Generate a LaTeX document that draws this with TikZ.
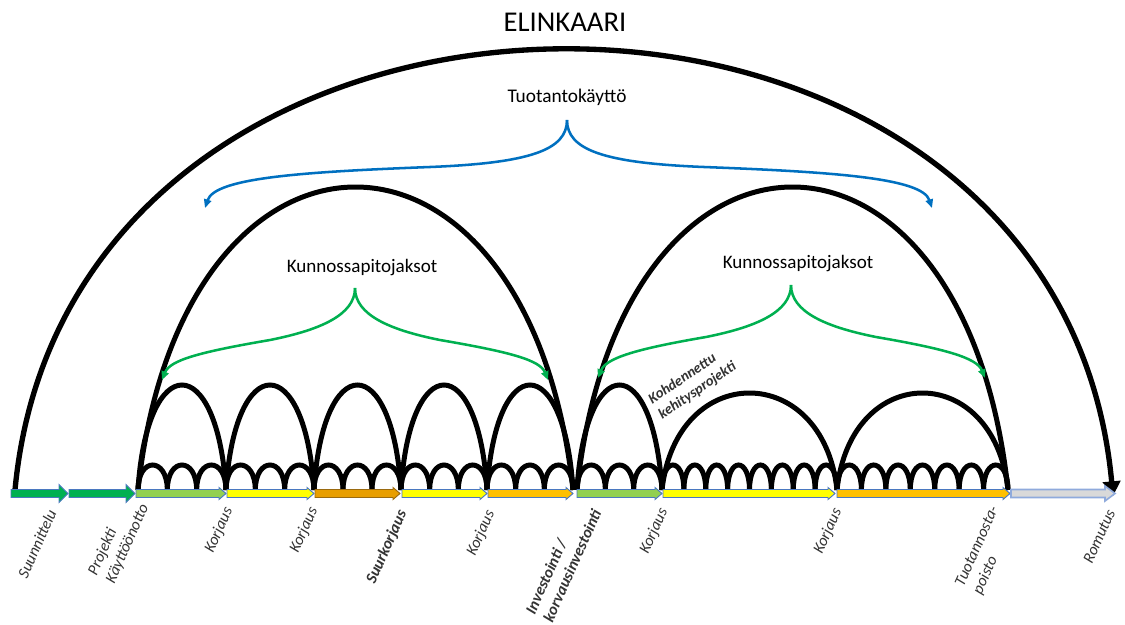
\documentclass[tikz,border=0pt]{standalone}
\usepackage{fontspec}
\setmainfont{Carlito}
\usetikzlibrary{arrows.meta}

\definecolor{bgreen}{HTML}{00B050}
\definecolor{lgreen}{HTML}{92D050}
\definecolor{yel}{HTML}{FFFF00}
\definecolor{dorange}{HTML}{E89E00}
\definecolor{dorangeedge}{HTML}{9A6A10}
\definecolor{orng}{HTML}{FFC000}
\definecolor{lgray}{HTML}{D9D9D9}
\definecolor{bblue}{HTML}{0070C0}
\definecolor{edgeblue}{HTML}{4A78C0}
\definecolor{grayedge}{HTML}{8FAADC}
\definecolor{labelgray}{HTML}{333333}

% one bar segment: x1, x2, fill, outline, head length, head half height
\newcommand\segarrow[6]{%
  \filldraw[fill=#3, draw=#4, line width=0.7pt]
    (#1,489.5) -- ({#2-#5},489.5) -- ({#2-#5},{493.5-#6}) -- (#2,493.5)
    -- ({#2-#5},{493.5+#6}) -- ({#2-#5},497.5) -- (#1,497.5) -- cycle;}

% one arch standing on the bar: x1, x2, height, slant of the legs
\newcommand\archline[4]{%
  \draw[archstyle] (#1,490) .. controls ({#1+#4*(#2-#1)},{490-4*#3/3})
    and ({#2-#4*(#2-#1)},{490-4*#3/3}) .. (#2,490);}

\begin{document}
\begin{tikzpicture}[x=0.75pt,y=-0.75pt,
  archstyle/.style={line width=3.75pt, black},
  bracestyle/.style={line width=1.9pt, -{Triangle[length=6.5pt,width=5.5pt]}},
  lbl/.style={font=\fontsize{12}{14.5}\selectfont\itshape, rotate=66,
    inner sep=0pt, text=labelgray, anchor=east, align=left},
  lblbold/.style={lbl, font=\fontsize{12}{14.5}\selectfont\bfseries\itshape},
  headline/.style={inner sep=0pt, text=black}]
\useasboundingbox (0,0) rectangle (1125,625);

% whole life cycle arch with its arrow head
\draw[line width=4pt, -{Triangle[length=11pt,width=13pt]}]
  (15,490) .. controls (70,-97) and (1058,-97) .. (1113,496);

% two maintenance periods
\archline{138}{573}{303}{0.1}
\archline{577}{1008}{303}{0.1}

% repair intervals
\foreach \a/\b in {138/226, 226/314, 314/401, 401/487, 487/573, 577/662}
  {\archline{\a}{\b}{105}{0.1}}
\archline{662}{837}{97}{0.08}
\archline{837}{1008}{97}{0.08}

% small service intervals
\foreach \a/\b/\n in {138/226/3, 226/314/3, 314/401/3, 401/487/3, 487/573/3,
                      577/662/3, 662/837/8, 837/1008/7}{
  \pgfmathsetmacro\w{(\b-\a)/\n}
  \foreach \k in {1,...,\n}{
    \pgfmathsetmacro\xa{\a+(\k-1)*\w}
    \pgfmathsetmacro\xb{\a+\k*\w}
    \archline{\xa}{\xb}{25}{0}
  }
}

% time line
\segarrow{11}{68}{bgreen}{edgeblue}{9}{9}
\segarrow{69}{135}{bgreen}{edgeblue}{9}{9}
\segarrow{136}{226}{lgreen}{edgeblue}{7}{6}
\segarrow{227}{314}{yel}{edgeblue}{7}{6}
\segarrow{315}{400}{dorange}{dorangeedge}{7}{6}
\segarrow{402}{487}{yel}{edgeblue}{7}{6}
\segarrow{488}{573}{orng}{edgeblue}{7}{6}
\segarrow{577}{662}{lgreen}{edgeblue}{7}{6}
\segarrow{663}{835}{yel}{edgeblue}{7}{6}
\segarrow{837}{1010}{orng}{edgeblue}{7}{6}
\filldraw[fill=lgray, draw=grayedge, line width=1.2pt]
  (1011,489.5) -- (1105,489.5) -- (1105,486) -- (1115,493.5)
  -- (1105,501) -- (1105,497.5) -- (1011,497.5) -- cycle;

% headings
\node[headline, font=\fontsize{21.5}{24}\selectfont] (title) at (565,22) {ELINKAARI};
\node[headline, font=\fontsize{14.5}{17}\selectfont] (prod) at (567,97) {Tuotantokäyttö};
\node[headline, font=\fontsize{14.3}{17}\selectfont] (kp1) at (362,268) {Kunnossapitojaksot};
\node[headline, font=\fontsize{14.3}{17}\selectfont] (kp2) at (798,264) {Kunnossapitojaksot};

% braces
\coordinate (btip) at (567,120);
\coordinate (bl) at (205,208);
\coordinate (br) at (932,208);
\draw[bracestyle, bblue] (btip) .. controls (567,150) and (530,163) .. (430,167)
  .. controls (300,172) and (215,178) .. (bl);
\draw[bracestyle, bblue] (btip) .. controls (567,150) and (604,163) .. (704,167)
  .. controls (834,172) and (922,178) .. (br);

\coordinate (g1tip) at (355,288);
\coordinate (g1l) at (162,380);
\coordinate (g1r) at (548,380);
\draw[bracestyle, bgreen] (g1tip) .. controls (355,315) and (320,330) .. (270,340)
  .. controls (200,352) and (170,360) .. (g1l);
\draw[bracestyle, bgreen] (g1tip) .. controls (355,315) and (390,330) .. (440,340)
  .. controls (510,352) and (540,360) .. (g1r);

\coordinate (g2tip) at (791,285);
\coordinate (g2l) at (598,378);
\coordinate (g2r) at (985,378);
\draw[bracestyle, bgreen] (g2tip) .. controls (791,312) and (756,327) .. (706,337)
  .. controls (636,349) and (606,358) .. (g2l);
\draw[bracestyle, bgreen] (g2tip) .. controls (791,312) and (826,327) .. (876,337)
  .. controls (946,349) and (977,358) .. (g2r);

% project label inside the first repair interval
\node[lblbold, rotate=-32, font=\fontsize{11}{13.5}\selectfont\bfseries\itshape]
  (kehitys) at (730,358) {Kohdennettu\\kehitysprojekti};

% events along the time line
\node[lbl] (suun) at (52,510) {Suunnittelu};
\node[lbl] (kayt) at (136,501) {Projekti\\Käyttöönotto};
\node[lbl] (kor1) at (229,508) {Korjaus};
\node[lbl] (kor2) at (314,508) {Korjaus};
\node[lblbold] (suur) at (403,511) {Suurkorjaus};
\node[lbl] (kor3) at (491,511) {Korjaus};
\node[lblbold] (inv) at (588,506) {Investointi /\\korvausinvestointi};
\node[lbl] (kor4) at (664,509) {Korjaus};
\node[lbl] (kor5) at (838,509) {Korjaus};
\node[lbl] (poisto) at (1004,511) {Tuotannosta-\\poisto};
\node[lbl] (romu) at (1111,510) {Romutus};
\end{tikzpicture}
\end{document}
